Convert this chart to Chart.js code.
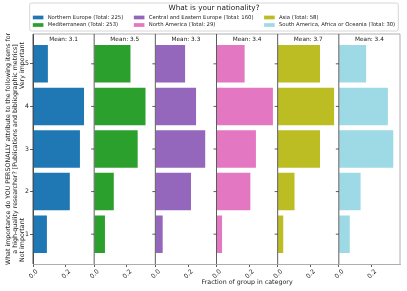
<!DOCTYPE html>
<html>
<head>
<meta charset="utf-8">
<script src="https://cdn.jsdelivr.net/npm/chart.js@4.4.0/dist/chart.umd.min.js"></script>
<style>
  html, body { margin: 0; padding: 0; background: #fff; }
</style>
</head>
<body>
<canvas id="chart" width="407" height="291"></canvas>
<script>
// data (fraction of each group per answer, answers 1..5)
const groups = ["Northern Europe", "Mediterranean", "Central and Eastern Europe",
                "North America", "Asia", "South America, Africa or Oceania"];
const totals = [225, 253, 160, 29, 58, 30];
const means = ["3.1", "3.5", "3.3", "3.4", "3.7", "3.4"];
const categories = [1, 2, 3, 4, 5];
const xTicks = [0, 0.2];

const northernEurope = [0.085, 0.225, 0.287, 0.312, 0.091];
const mediterranean  = [0.066, 0.120, 0.266, 0.314, 0.222];
const centralEastern = [0.045, 0.218, 0.305, 0.249, 0.182];
const northAmerica   = [0.034, 0.207, 0.241, 0.345, 0.172];
const asia           = [0.034, 0.103, 0.259, 0.345, 0.259];
const southAmerica   = [0.067, 0.133, 0.333, 0.300, 0.167];
const series = [northernEurope, mediterranean, centralEastern, northAmerica, asia, southAmerica];

const colors = ["#1f77b4", "#2ca02c", "#9467bd", "#e377c2", "#bcbd22", "#9edae5"];

const FONT = "DejaVu Sans";
const INK = "#222";
Chart.defaults.font.family = FONT;

const yLabel1 = "What importance do YOU PERSONALLY attribute to the following items for";
const yLabel2 = "a high-quality researcher? [Publications and bibliographic metrics]";
const xLabel = "Fraction of group in category";

// spines, panel ticks, "Mean" labels, legend and axis labels
const decor = {
  id: "decor",
  afterDatasetsDraw(chart) {
    const { ctx, chartArea: a, scales } = chart;
    ctx.save();
    ctx.lineWidth = 0.8;
    ctx.strokeStyle = "#999";
    ctx.beginPath();
    ctx.moveTo(a.left, a.top);
    ctx.lineTo(a.right, a.top);
    ctx.lineTo(a.right, a.bottom);
    ctx.stroke();

    ctx.font = `5.8px ${FONT}`;
    ctx.fillStyle = INK;
    ctx.textAlign = "center";
    ctx.textBaseline = "middle";
    groups.forEach((g, i) => {
      const s = scales["x" + i];
      ctx.strokeStyle = "#333";
      ctx.beginPath();
      ctx.moveTo(s.left, a.top);
      ctx.lineTo(s.left, a.bottom);
      if (i > 0) {
        categories.forEach(c => {
          const y = scales.y.getPixelForValue(c);
          ctx.moveTo(s.left - 3, y);
          ctx.lineTo(s.left, y);
        });
      }
      ctx.stroke();
      ctx.fillText("Mean: " + means[i], (s.left + s.right) / 2, a.top + 5.5);
    });
    ctx.restore();
  },
  afterDraw(chart) {
    const { ctx, chartArea: a, scales } = chart;
    ctx.save();

    // legend, column-major like the original
    const f = 5.3;
    const labels = chart.data.datasets.map(d => d.label);
    ctx.font = `${f}px ${FONT}`;
    const colW = [0, 1, 2].map(c => Math.max(ctx.measureText(labels[2 * c]).width,
                                             ctx.measureText(labels[2 * c + 1]).width));
    const hl = 2 * f, hp = 0.8 * f, cs = 2 * f, bp = 0.4 * f;
    const contentW = colW.reduce((s, w) => s + hl + hp + w, 0) + 2 * cs;
    const boxW = contentW + 2 * bp + 2;
    const cx = 214;
    const boxL = cx - boxW / 2;
    ctx.fillStyle = "rgba(255,255,255,0.8)";
    ctx.strokeStyle = "#ccc";
    ctx.lineWidth = 0.8;
    ctx.beginPath();
    ctx.roundRect(boxL, 3, boxW, 28, 2);
    ctx.fill();
    ctx.stroke();

    ctx.fillStyle = INK;
    ctx.font = `7.3px ${FONT}`;
    ctx.textAlign = "center";
    ctx.textBaseline = "middle";
    ctx.fillText("What is your nationality?", cx, 8.5);

    ctx.font = `${f}px ${FONT}`;
    ctx.textAlign = "left";
    let x = boxL + bp + 1;
    [0, 1, 2].forEach(c => {
      [0, 1].forEach(r => {
        const k = 2 * c + r;
        const y = [17.5, 25][r];
        ctx.fillStyle = colors[k];
        ctx.fillRect(x, y - 1.85, hl, 3.7);
        ctx.fillStyle = INK;
        ctx.fillText(labels[k], x + hl + hp, y);
      });
      x += hl + hp + colW[c] + cs;
    });

    // x label sits under the fourth panel
    const s3 = scales.x3;
    ctx.font = `6.3px ${FONT}`;
    ctx.textAlign = "center";
    ctx.fillText(xLabel, (s3.left + s3.right) / 2, 282.5);

    // rotated y label in three lines
    const cy = (a.top + a.bottom) / 2;
    ctx.textBaseline = "middle";
    const rot = (px, fn) => {
      ctx.save();
      ctx.translate(px, cy);
      ctx.rotate(-Math.PI / 2);
      fn();
      ctx.restore();
    };
    rot(8, () => { ctx.textAlign = "center"; ctx.fillText(yLabel1, 0, 0); });
    rot(15, () => { ctx.textAlign = "center"; ctx.fillText(yLabel2, 0, 0); });
    rot(22, () => {
      ctx.textAlign = "left";
      ctx.fillText("Not important", -(a.bottom - 2 - cy), 0);
      ctx.textAlign = "right";
      ctx.fillText("Very important", cy - (a.top + 8), 0);
    });
    ctx.restore();
  }
};

const scales = {
  y: {
    type: "linear",
    position: "left",
    min: 0.3,
    max: 5.7,
    offset: false,
    afterBuildTicks: s => { s.ticks = categories.map(v => ({ value: v })); },
    afterFit: s => { s.width = 33; },
    ticks: { font: { size: 6.2 }, color: INK, padding: 1, callback: v => String(v) },
    grid: { drawOnChartArea: false, offset: false, tickLength: 3, color: "#333", lineWidth: 0.8 },
    border: { color: "#333", width: 0.8 }
  }
};
groups.forEach((g, i) => {
  scales["x" + i] = {
    type: "linear",
    position: "bottom",
    stack: "panels",
    stackWeight: 1,
    min: 0,
    max: 0.374,
    afterBuildTicks: s => { s.ticks = xTicks.map(v => ({ value: v })); },
    afterFit: s => { s.height = 27; },
    ticks: {
      font: { size: 6.2 }, color: INK, autoSkip: false,
      minRotation: 45, maxRotation: 45, padding: 1, labelOffset: 4,
      callback: v => v.toFixed(1)
    },
    grid: { drawOnChartArea: false, tickLength: 3, color: "#333", lineWidth: 0.8 },
    border: { color: "#999", width: 0.8 }
  };
});

new Chart(document.getElementById("chart"), {
  type: "bar",
  data: {
    datasets: groups.map((g, i) => ({
      label: `${g} (Total: ${totals[i]})`,
      data: categories.map((c, j) => ({ x: series[i][j], y: c })),
      xAxisID: "x" + i,
      yAxisID: "y",
      backgroundColor: colors[i],
      borderWidth: 0,
      grouped: false,
      categoryPercentage: 0.88,
      barPercentage: 1
    }))
  },
  options: {
    indexAxis: "y",
    responsive: false,
    animation: false,
    layout: { padding: { top: 34, right: 7, left: 0, bottom: 0 } },
    plugins: { legend: { display: false }, tooltip: { enabled: false } },
    scales: scales
  },
  plugins: [decor]
});
</script>
</body>
</html>
